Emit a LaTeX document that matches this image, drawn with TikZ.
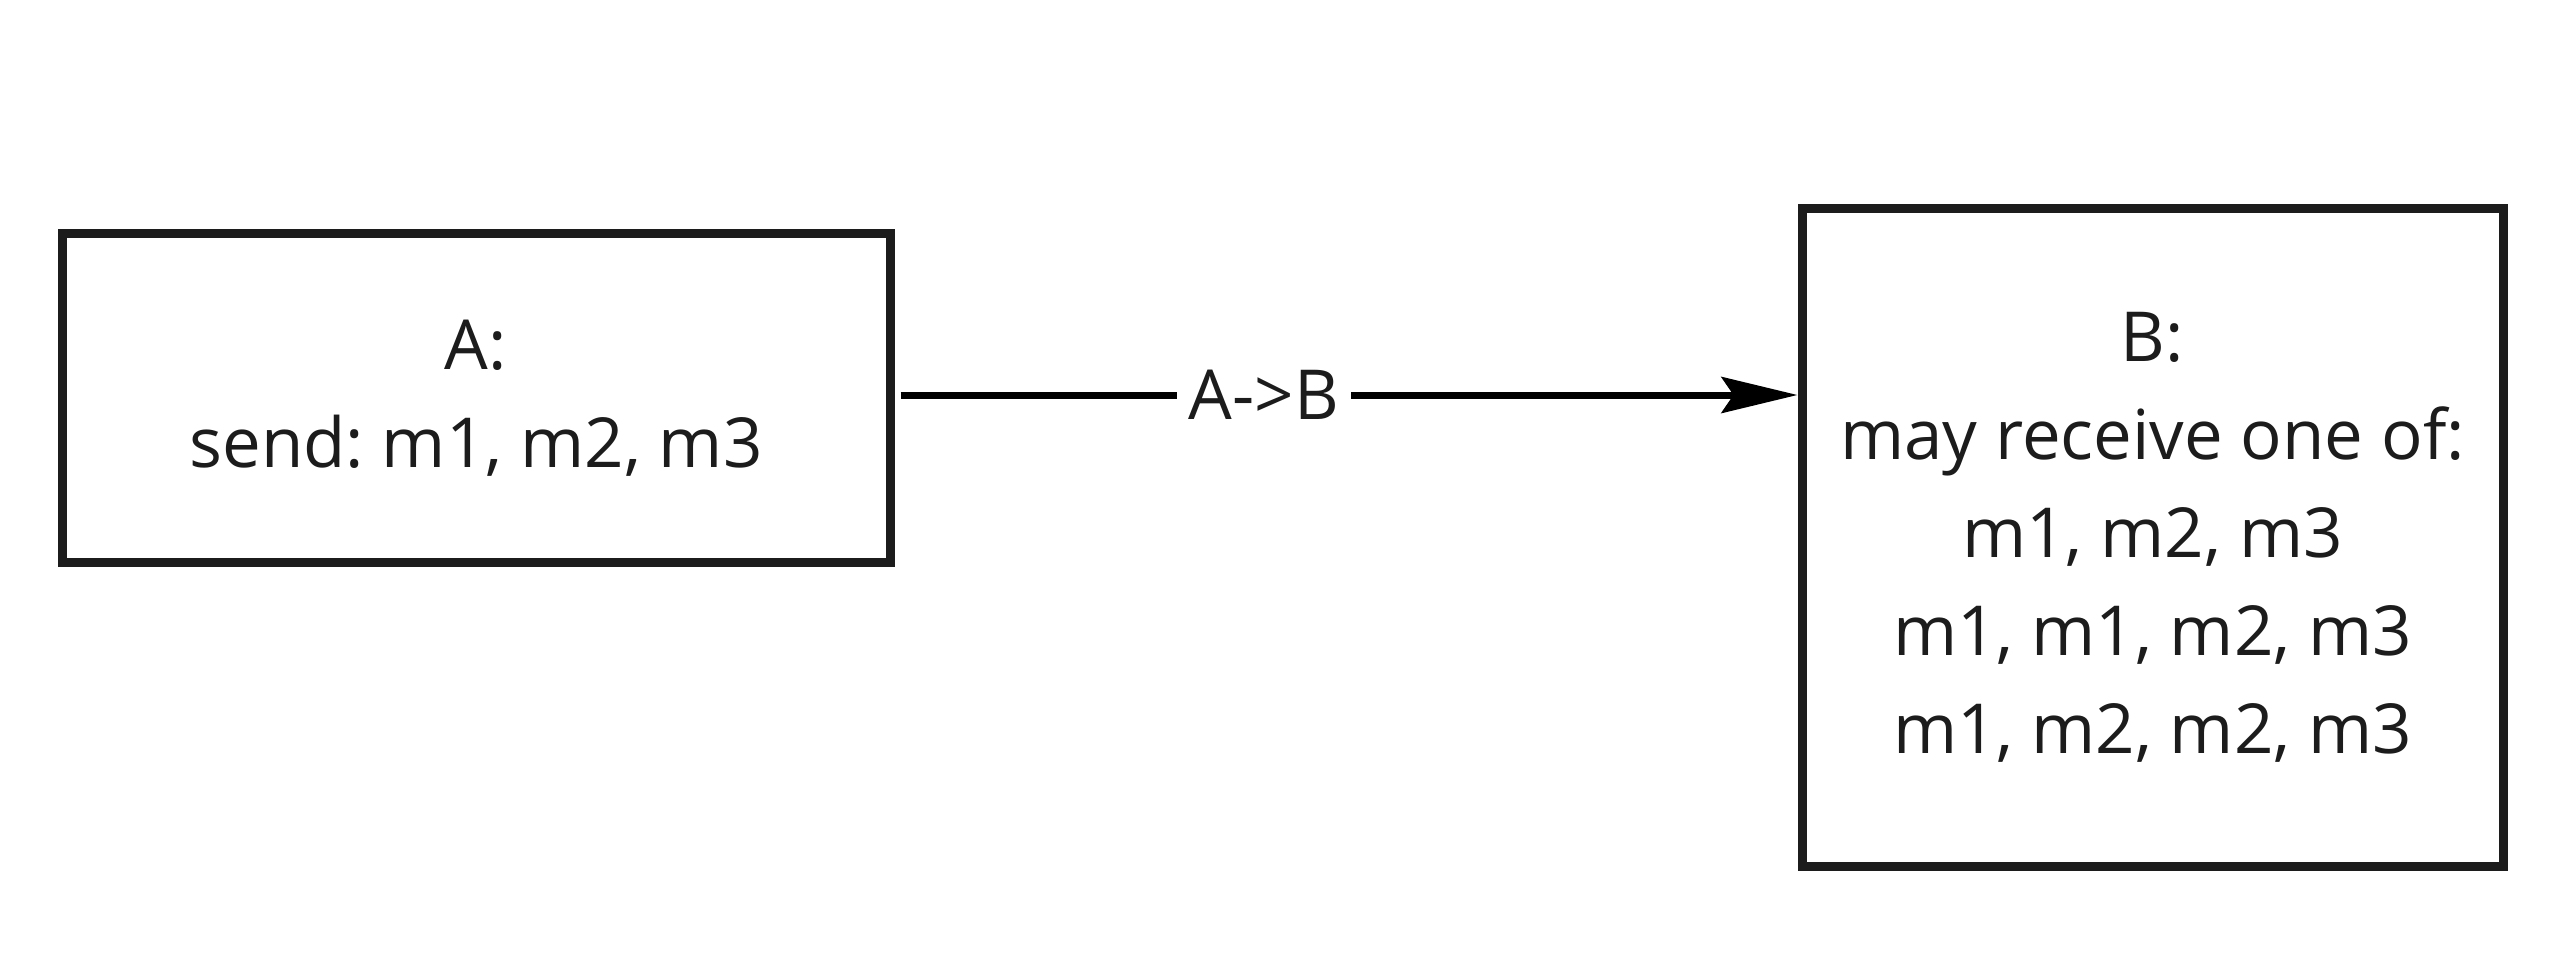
\documentclass[tikz,border=0pt]{standalone}
\usepackage{fontspec}
\setmainfont{Open Sans}
\frenchspacing
\usetikzlibrary{arrows.meta}
\definecolor{ink}{HTML}{1C1C1C}
\tikzset{
  px/.style={x=0.5pt,y=-0.5pt},
  box/.style={draw=ink, line width=4.5pt, fill=white, inner sep=0pt,
    text=ink, align=center, font=\fontsize{34.5}{49}\selectfont},
  link/.style={line width=3.5pt, -{Stealth[length=38pt,width=18pt,inset=6pt]}},
  tag/.style={fill=white, text=ink, inner sep=6pt, font=\fontsize{34.5}{49}\selectfont}
}
\begin{document}
\begin{tikzpicture}[px]
  \useasboundingbox (0,0) rectangle (2562,973);
  \fill[white] (0,0) rectangle (2562,973);
  \node[box, minimum width=414pt, minimum height=164pt] (A) at (476,398)
    {A:\\send: m1, m2, m3};
  \node[box, minimum width=350.5pt, minimum height=328.5pt] (B) at (2152.5,537.5)
    {B:\\may receive one of:\\m1, m2, m3\\m1, m1, m2, m3\\m1, m2, m2, m3};
  \coordinate (s) at ([xshift=3pt]A.east |- 0,395);
  \coordinate (t) at ([xshift=0pt]B.west |- 0,395);
  \draw[link] (s) -- node[tag, pos=0.405] (lab) {A->B} (t);
\end{tikzpicture}
\end{document}
